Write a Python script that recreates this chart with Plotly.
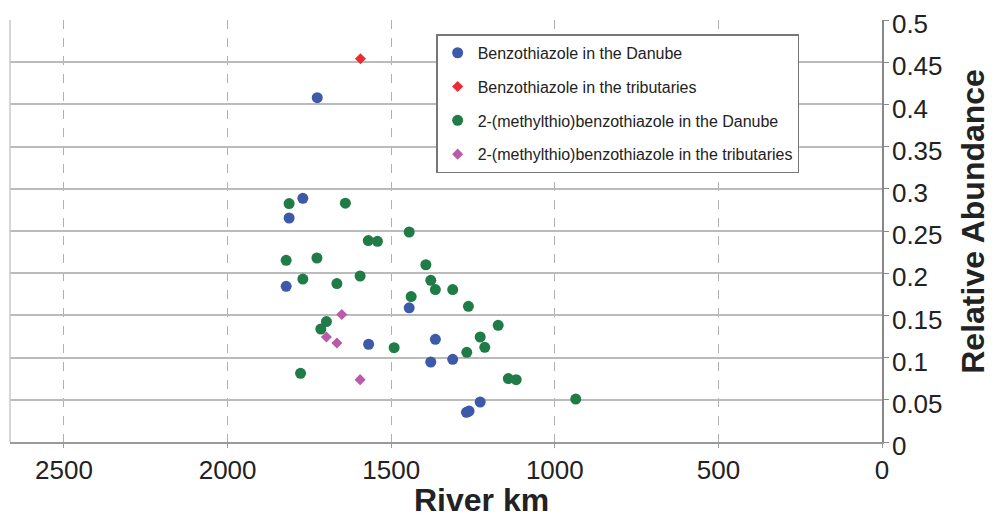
import plotly.graph_objects as go

# ---- data ----
bt_danube_km = [1726, 1770, 1812, 1821, 1445, 1569, 1365, 1379, 1312, 1228, 1262, 1270]
bt_danube_ab = [0.408, 0.2887, 0.2654, 0.1845, 0.159, 0.1158, 0.1217, 0.0948, 0.098, 0.0474, 0.0367, 0.0352]

bt_trib_km = [1594]
bt_trib_ab = [0.454]

mtbt_danube_km = [1812, 1640, 1445, 1570, 1542, 1821, 1727, 1394, 1770, 1595, 1666, 1379, 1365,
                  1312, 1439, 1264, 1698, 1715, 1491, 1269, 1777, 1173, 1228, 1214, 1142, 1118, 936]
mtbt_danube_ab = [0.2825, 0.283, 0.2488, 0.2386, 0.2378, 0.2153, 0.218, 0.210, 0.193, 0.1967, 0.1877,
                  0.1916, 0.1806, 0.1806, 0.1723, 0.1608, 0.1427, 0.1339, 0.1118, 0.1063, 0.0814,
                  0.1383, 0.1244, 0.1122, 0.0751, 0.0739, 0.0509]

mtbt_trib_km = [1651, 1698, 1666, 1595]
mtbt_trib_ab = [0.151, 0.1244, 0.1173, 0.0739]

x_ticks = [2500, 2000, 1500, 1000, 500, 0]
y_ticks = [0, 0.05, 0.1, 0.15, 0.2, 0.25, 0.3, 0.35, 0.4, 0.45, 0.5]
y_tick_text = ["0", "0.05", "0.1", "0.15", "0.2", "0.25", "0.3", "0.35", "0.4", "0.45", "0.5"]

FONT = "Liberation Sans, Arial, Helvetica, sans-serif"

fig = go.Figure()
series = [
    ("Benzothiazole in the Danube", bt_danube_km, bt_danube_ab, "circle", 11, "#3d5aa9"),
    ("Benzothiazole in the tributaries", bt_trib_km, bt_trib_ab, "diamond", 8.5, "#ec2b33"),
    ("2-(methylthio)benzothiazole in the Danube", mtbt_danube_km, mtbt_danube_ab, "circle", 11, "#1f7c47"),
    ("2-(methylthio)benzothiazole in the tributaries", mtbt_trib_km, mtbt_trib_ab, "diamond", 8.5, "#b95ba8"),
]
for i, (name, xs, ys, sym, sz, col) in enumerate(series):
    fig.add_trace(go.Scatter(
        x=xs, y=ys, mode="markers", name=name, legendgroup=f"g{i}",
        marker=dict(symbol=sym, size=sz, color=col, line=dict(width=0)),
    ))

# page body has an 8px default margin, so the figure is 8px smaller and margins shifted
fig.update_layout(
    width=986, height=513,
    margin=dict(l=2, r=112, t=12, b=79, autoexpand=False),
    paper_bgcolor="white", plot_bgcolor="white",
    font=dict(family=FONT, color="#222222"),
    showlegend=True,
    legend=dict(
        x=0.4887, y=0.966, xanchor="left", yanchor="top",
        bgcolor="white", bordercolor="#777777", borderwidth=1.5,
        font=dict(family=FONT, size=16, color="#222222"),
        traceorder="grouped", tracegroupgap=10,
    ),
    xaxis=dict(
        range=[2665, 0], tickvals=x_ticks, ticktext=[str(v) for v in x_ticks],
        showgrid=True, gridcolor="#b0b0b0", griddash="dash", gridwidth=1,
        showline=True, linecolor="#9a9a9a", linewidth=1.5,
        ticks="outside", ticklen=4, tickcolor="#9a9a9a",
        tickfont=dict(family=FONT, size=26, color="#222222"),
        zeroline=False, automargin=False,
    ),
    yaxis=dict(
        range=[0, 0.5], side="right", tickvals=y_ticks, ticktext=y_tick_text,
        showgrid=True, gridcolor="#bbbbbb", gridwidth=1.5,
        showline=True, linecolor="#888888", linewidth=1.5,
        ticks="outside", ticklen=5, tickcolor="#888888",
        tickfont=dict(family=FONT, size=26, color="#222222"),
        zeroline=False, ticklabelshift=4, ticklabelstandoff=-2, automargin=False,
        ticklabeloverflow="allow",
    ),
)

# left plot border (light)
fig.add_shape(type="line", xref="paper", yref="paper", x0=0, x1=0, y0=0, y1=1,
              line=dict(color="#c8c8c8", width=1.5))

fig.add_annotation(text="River km", xref="paper", yref="paper", x=0.5409, y=-0.137,
                   xanchor="center", yanchor="middle", showarrow=False,
                   font=dict(family=FONT, size=32, color="#222222", weight="bold"))
fig.add_annotation(text="Relative Abundance", xref="paper", yref="paper", x=1.1044, y=0.522,
                   xanchor="center", yanchor="middle", showarrow=False, textangle=-90,
                   font=dict(family=FONT, size=32, color="#222222", weight="bold"))

fig.write_html("out.html")
